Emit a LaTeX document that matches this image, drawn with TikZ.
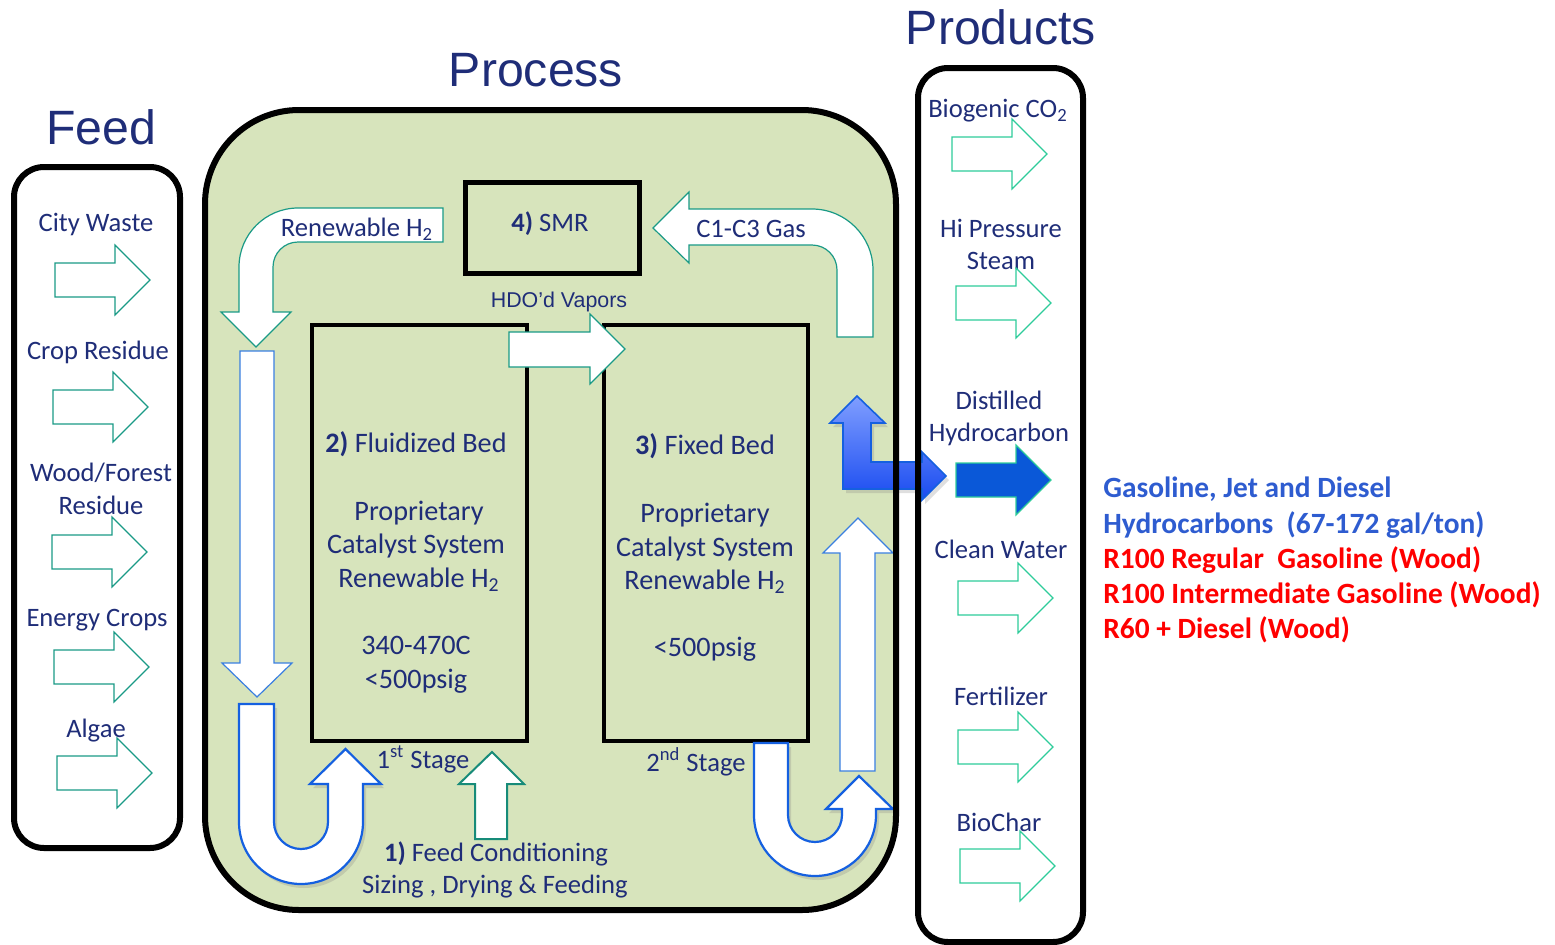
\documentclass[tikz,border=0pt]{standalone}
\usepackage{fontspec}
\setmainfont{Carlito}
\newfontfamily\arialf{Liberation Sans}
\usetikzlibrary{shadows}
\definecolor{navy}{HTML}{1F2D78}
\definecolor{procgreen}{HTML}{D7E4BC}
\definecolor{tealdark}{HTML}{1A9A86}
\definecolor{mint}{HTML}{2ECC9A}
\definecolor{ublue}{HTML}{1560E0}
\definecolor{lblue}{HTML}{3A7FE0}
\definecolor{hcblue}{HTML}{0A58D8}
\definecolor{txtblue}{HTML}{2E5CD0}
\definecolor{txtred}{HTML}{FF0000}
\newcommand\rarr[4][]{\draw[#1] (#2,#4-17) -- (#3-35,#4-17) -- (#3-35,#4-35) -- (#3,#4) -- (#3-35,#4+35) -- (#3-35,#4+17) -- (#2,#4+17) -- cycle;}
\begin{document}
\begin{tikzpicture}[x=0.5pt,y=-0.5pt,
  txt/.style={text=navy, font=\fontsize{13.3}{16}\selectfont, anchor=base, inner sep=0pt},
  bedtxt/.style={txt, font=\fontsize{14.1}{17}\selectfont},
  ttl/.style={text=navy, font=\arialf\fontsize{24.1}{29}\selectfont, anchor=base, inner sep=0pt},
  big/.style={font=\bfseries\fontsize{14.7}{18}\selectfont, anchor=base west, inner sep=0pt},
  feedarr/.style={draw=tealdark, line width=0.6pt, fill=white},
  prodarr/.style={draw=mint, line width=0.6pt, fill=white},
  thinarr/.style={draw=tealdark, line width=0.6pt, fill=white},
  bluearr/.style={draw=lblue, line width=0.6pt, fill=white},
  uarr/.style={draw=ublue, line width=1.1pt, fill=white, drop shadow={opacity=0.25, shadow xshift=1.5pt, shadow yshift=-2pt}},
  outerbox/.style={line width=3pt, draw=black},
  unitbox/.style={line width=2pt, draw=black, fill=procgreen}]
\useasboundingbox (0,0) rectangle (1555,944);

% Process region fill
\fill[procgreen, rounded corners=47pt] (205,110) rectangle (896,910);

% Titles
\node[ttl] (tfeed) at (101,144) {Feed};
\node[ttl] (tproc) at (536,86) {Process};
\node[ttl] (tprod) at (1001,44) {Products};

% Feed items
\node[txt] (f1) at (96,231) {City Waste};
\rarr[feedarr]{55}{150}{280}
\node[txt] (f2) at (98,359) {Crop Residue};
\rarr[feedarr]{53}{148}{407}
\node[txt] (f3) at (101,481) {Wood/Forest};
\node[txt] (f3b) at (101,514) {Residue};
\rarr[feedarr]{52}{147}{552}
\node[txt] (f4) at (97,626) {Energy Crops};
\rarr[feedarr]{54}{149}{667}
\node[txt] (f5) at (96,737) {Algae};
\rarr[feedarr]{57}{152}{773}

% Product items
\node[txt] (p1) at (998,117) {Biogenic CO\textsubscript{2}};
\rarr[prodarr]{952}{1047}{154}
\node[txt] (p2) at (1001,237) {Hi Pressure};
\node[txt] (p2b) at (1001,269) {Steam};
\rarr[prodarr]{956}{1051}{303}
\node[txt] (p3) at (999,409) {Distilled};
\node[txt] (p3b) at (999,441) {Hydrocarbon};
\rarr[draw=mint, line width=0.6pt, fill=hcblue]{956}{1051}{480}
\node[txt] (p4) at (1001,558) {Clean Water};
\rarr[prodarr]{958}{1053}{598}
\node[txt] (p5) at (1001,705) {Fertilizer};
\rarr[prodarr]{958}{1053}{747}
\node[txt] (p6) at (999,831) {BioChar};
\rarr[prodarr]{960}{1055}{866}

% SMR box
\node[draw=black, line width=2.5pt, fill=procgreen, minimum width=87pt, minimum height=45.5pt, anchor=north west, inner sep=0pt] (smr) at (463,180) {};
\node[txt] (smrt) at (550,231) {\textbf{4)} SMR};

% Bed boxes
\draw[unitbox] (312,325) rectangle (527,741);
\coordinate (fb) at (419,533);
\draw[unitbox] (604,325) rectangle (808,741);
\coordinate (xb) at (706,533);

\node[bedtxt] (b1) at (416,452) {\textbf{2)} Fluidized Bed};
\node[bedtxt] (b2) at (419,520) {Proprietary};
\node[bedtxt] (b3) at (416,553) {Catalyst System};
\node[bedtxt] (b4) at (419,587) {Renewable H\textsubscript{2}};
\node[bedtxt] (b5) at (416,654) {340-470C};
\node[bedtxt] (b6) at (416,688) {<500psig};

\node[bedtxt] (c1) at (705,454) {\textbf{3)} Fixed Bed};
\node[bedtxt] (c2) at (705,522) {Proprietary};
\node[bedtxt] (c3) at (705,556) {Catalyst System};
\node[bedtxt] (c4) at (705,589) {Renewable H\textsubscript{2}};
\node[bedtxt] (c5) at (705,656) {<500psig};

\node[txt] (s1) at (423,768) {1\textsuperscript{st} Stage};
\node[txt] (s2) at (696,771) {2\textsuperscript{nd} Stage};

% HDO'd vapors arrow
\node[text=navy, font=\arialf\fontsize{10.7}{13}\selectfont, anchor=base, inner sep=0pt] (hdo) at (559,307) {HDO’d Vapors};
\draw[thinarr] (509,332) -- (590,332) -- (590,314) -- (625,349) -- (590,384) -- (590,367) -- (509,367) -- cycle;

% Renewable H2 bent arrow
\draw[thinarr] (443,208) -- (298,208) arc[start angle=270, end angle=180, radius=59] -- (239,312) -- (221,312) -- (256,347) -- (291,312) -- (273,312) -- (273,267) arc[start angle=180, end angle=270, radius=25] -- (443,242) -- cycle;
\node[txt] (rh2) at (357,236) {Renewable H\textsubscript{2}};

% C1-C3 gas bent arrow
\draw[thinarr] (653,228) -- (689,192) -- (689,209) -- (812,209) arc[start angle=270, end angle=360, radius=61] -- (873,337) -- (837,337) -- (837,270) arc[start angle=0, end angle=-90, radius=25] -- (689,245) -- (689,263) -- cycle;
\node[txt] (c13) at (751,237) {C1-C3 Gas};

% Left vertical arrow
\draw[bluearr] (240,351) -- (274,351) -- (274,663) -- (292,663) -- (257,697) -- (222,663) -- (240,663) -- cycle;

% Left U-turn arrow
\draw[uarr] (239,704) -- (239,822) arc[start angle=180, end angle=0, radius=62] -- (363,784) -- (381,784) -- (345.5,749) -- (310,784) -- (328,784) -- (328,822) arc[start angle=0, end angle=180, radius=27] -- (274,704) -- cycle;

% Feed conditioning arrow
\draw[draw=tealdark!90!black, line width=1pt, fill=white] (475,839) -- (475,784) -- (459,784) -- (492,752) -- (524,784) -- (507,784) -- (507,839) -- cycle;
\node[txt] (fc1) at (496,861) {\textbf{1)} Feed Conditioning};
\node[txt] (fc2) at (495,893) {Sizing , Drying \& Feeding};

% Right U-turn arrow
\draw[uarr] (754,743) -- (754,815) arc[start angle=180, end angle=0, radius=61] -- (876,809) -- (893,809) -- (859,776) -- (826,809) -- (842,809) -- (842,815) arc[start angle=0, end angle=180, radius=27] -- (788,743) -- cycle;

% Right vertical up arrow
\draw[bluearr] (840,771) -- (840,553) -- (823,553) -- (858,518) -- (893,553) -- (875,553) -- (875,771) -- cycle;

% Blue L arrow
\draw[draw=ublue, line width=0.8pt, top color={rgb,255:red,128;green,158;blue,255}, bottom color={rgb,255:red,25;green,75;blue,240}, drop shadow={opacity=0.25, shadow xshift=1.5pt, shadow yshift=-2pt}] (843,489) -- (843,423) -- (830,423) -- (857,396) -- (885,423) -- (871,423) -- (871,462) -- (922,462) -- (922,452) -- (946,476) -- (922,500) -- (922,489) -- cycle;

% Borders on top
\draw[outerbox, rounded corners=47pt] (205,110) rectangle (896,910);
\draw[outerbox, rounded corners=15pt] (14,167) rectangle (180,848);
\draw[outerbox, rounded corners=15pt] (918,68) rectangle (1083,942);

% Right text
\node[big, text=txtblue] (r1) at (1103,497) {Gasoline, Jet and Diesel};
\node[big, text=txtblue] (r2) at (1103,533) {Hydrocarbons~~(67-172 gal/ton)};
\node[big, text=txtred] (r3) at (1103,568) {R100 Regular~~Gasoline (Wood)};
\node[big, text=txtred] (r4) at (1103,603) {R100 Intermediate Gasoline (Wood)};
\node[big, text=txtred] (r5) at (1103,638) {R60 + Diesel (Wood)};
\end{tikzpicture}
\end{document}
